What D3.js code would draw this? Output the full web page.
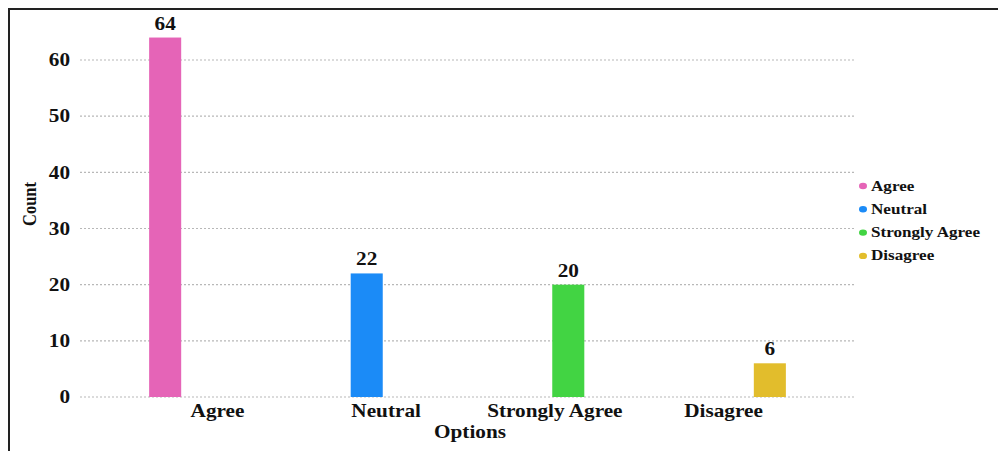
<!DOCTYPE html>
<html>
<head>
<meta charset="utf-8">
<script src="https://cdn.jsdelivr.net/npm/d3@7"></script>
<style>
  html, body { margin: 0; padding: 0; background: #fff; }
  svg { display: block; }
  text { font-family: "Liberation Serif", "Times New Roman", serif; font-weight: bold; fill: #111; }
</style>
</head>
<body>
<svg id="chart" width="998" height="451"></svg>
<script>
// Survey responses per option
const categories = ["Agree", "Neutral", "Strongly Agree", "Disagree"];
const counts = [64, 22, 20, 6];
const colors = ["#e564b7", "#1b8bf7", "#42d443", "#e2bd2c"];
const yTicks = [0, 10, 20, 30, 40, 50, 60];

const svg = d3.select("#chart");
const W = 998, H = 451;
const plot = { left: 80, right: 855, top: 60, bottom: 397 };
const WIDE = 1.18; // horizontal stretch applied to the text glyphs

// frame lines along the top and left edges
svg.append("path")
  .attr("d", `M9,${H} L9,9 L${W},9`)
  .attr("fill", "none")
  .attr("stroke", "#222")
  .attr("stroke-width", 2);

const y = d3.scaleLinear().domain([0, 60]).range([plot.bottom, plot.top]);

// bar positions
const xBar = d3.scaleBand()
  .domain(categories)
  .range([plot.left, plot.right])
  .paddingInner(0.841)
  .paddingOuter(0.343);

// category label positions
const xLabel = d3.scalePoint()
  .domain(categories)
  .range([82, 858])
  .padding(0.8);

// dotted horizontal gridlines
svg.append("g")
  .selectAll("line")
  .data(yTicks)
  .join("line")
  .attr("x1", plot.left)
  .attr("x2", plot.right)
  .attr("y1", d => y(d))
  .attr("y2", d => y(d))
  .attr("stroke", "#b8b8b8")
  .attr("stroke-width", 1.2)
  .attr("stroke-dasharray", "2,2");

// y axis labels
const yAxis = d3.axisLeft(y).tickValues(yTicks).tickSize(0).tickPadding(0);
const gy = svg.append("g")
  .attr("transform", `translate(70,0)`)
  .call(yAxis);
gy.select(".domain").remove();
gy.selectAll("text")
  .attr("transform", `scale(${WIDE},1)`)
  .style("font-family", "'Liberation Serif', serif")
  .style("font-weight", "bold")
  .style("font-size", "18px")
  .attr("fill", "#111");

// x axis labels
const xAxis = d3.axisBottom(xLabel).tickSize(0).tickPadding(0);
const gx = svg.append("g")
  .attr("transform", `translate(0,404)`)
  .call(xAxis);
gx.select(".domain").remove();
gx.selectAll("text")
  .attr("transform", `scale(${WIDE},1)`)
  .style("font-family", "'Liberation Serif', serif")
  .style("font-weight", "bold")
  .style("font-size", "18px")
  .attr("fill", "#111");

// bars
svg.append("g")
  .selectAll("rect")
  .data(categories)
  .join("rect")
  .attr("x", d => xBar(d))
  .attr("width", xBar.bandwidth())
  .attr("y", (d, i) => y(counts[i]))
  .attr("height", (d, i) => y(0) - y(counts[i]))
  .attr("fill", (d, i) => colors[i]);

// value labels
svg.append("g")
  .selectAll("text")
  .data(categories)
  .join("text")
  .attr("transform", (d, i) =>
    `translate(${xBar(d) + xBar.bandwidth() / 2},${y(counts[i]) - 8}) scale(${WIDE},1)`)
  .attr("text-anchor", "middle")
  .style("font-size", "18px")
  .text((d, i) => counts[i]);

// axis titles
svg.append("text")
  .attr("transform", `translate(470,438) scale(${WIDE},1)`)
  .attr("text-anchor", "middle")
  .style("font-size", "18px")
  .text("Options");

svg.append("text")
  .attr("transform", `translate(36,204) rotate(-90) scale(1,${WIDE})`)
  .attr("text-anchor", "middle")
  .style("font-size", "16.5px")
  .text("Count");

// legend
const legend = svg.append("g").attr("transform", "translate(863,186)");
const items = legend.selectAll("g")
  .data(categories)
  .join("g")
  .attr("transform", (d, i) => `translate(0,${i * 23.3})`);
items.append("ellipse")
  .attr("rx", 4)
  .attr("ry", 3.2)
  .attr("fill", (d, i) => colors[i]);
items.append("text")
  .attr("transform", `translate(8,4.5) scale(${WIDE},1)`)
  .style("font-size", "14.5px")
  .text(d => d);
</script>
</body>
</html>
